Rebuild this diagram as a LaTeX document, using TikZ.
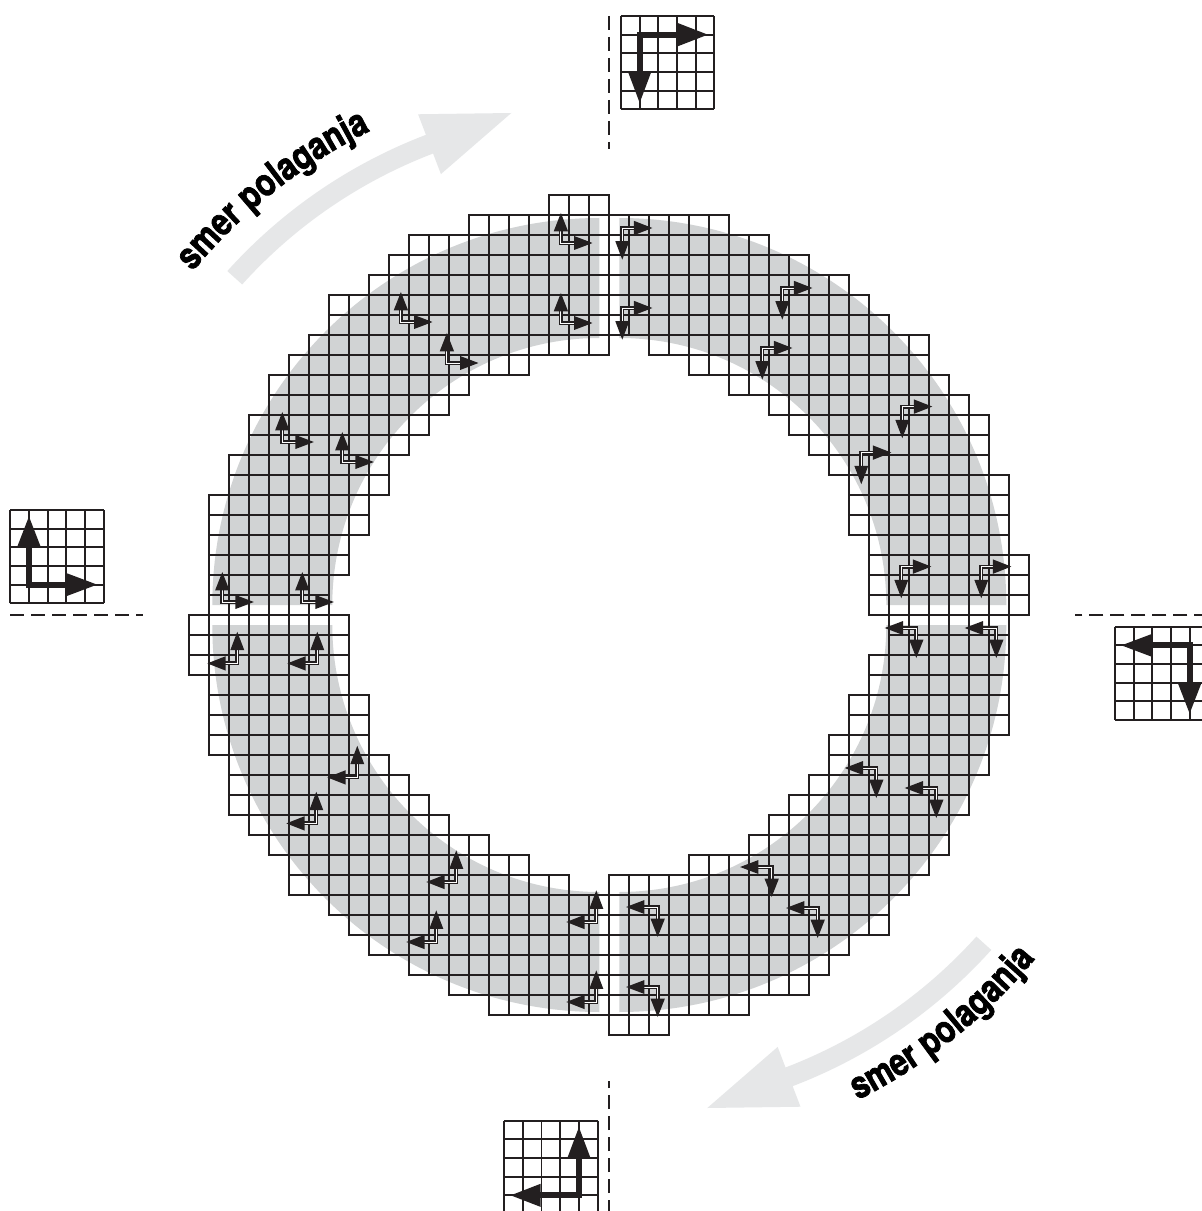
\documentclass[tikz,border=0pt]{standalone}
\usepackage{fontspec}
\setsansfont{TeX Gyre Heros}
\newfontfamily\flowfont[FakeStretch=0.82, FakeBold=2]{TeX Gyre Heros}
\usetikzlibrary{decorations.text}
\definecolor{ink}{HTML}{231F20}
\definecolor{ringgrey}{HTML}{D1D3D4}
\definecolor{arrowgrey}{HTML}{E6E7E8}
\tikzset{
  tile/.style={draw=ink, line width=1.8pt},
  band/.style={fill=ringgrey},
  stem/.style={draw=ink, line width=1.6pt, double=white, double distance=0.9pt, line join=miter},
  tip/.style={fill=ink},
  bigstem/.style={draw=ink, line width=6pt, line join=miter},
  axisline/.style={draw=ink, line width=1.6pt, dash pattern=on 14pt off 7pt},
  flow/.style={fill=arrowgrey},
  flowtext/.style={decorate, decoration={text along path,
      text={|\flowfont\bfseries\fontsize{38pt}{42pt}\selectfont|smer polaganja}}},
}
\newcommand\tileglyph[2]{%
  \begin{scope}[shift={(#1,#2)}]
    \draw[stem] (0,0.65) -- (0,0) -- (0.72,0);
    \fill[tip] (0,1.5) -- (-0.36,0.58) -- (0.36,0.58) -- cycle;
    \fill[tip] (1.58,0) -- (0.66,0.35) -- (0.66,-0.35) -- cycle;
  \end{scope}}
\begin{document}
\begin{tikzpicture}[x=20pt,y=20pt]
\useasboundingbox (-30.465,-29.8) rectangle (29.635,30.75);
\fill[white] (-30.465,-29.8) rectangle (29.635,30.75);

% grey laying-direction arrows
\fill[flow] (138:25.7) arc[start angle=138, end angle=110.9, radius=25.7]
  -- (110.9:26.8) -- (-4.90,25.10) -- (110.9:23.6) -- (110.9:24.7)
  arc[start angle=110.9, end angle=138, radius=24.7] -- cycle;
\begin{scope}[shift={(0,0.45)}, rotate=180]
\fill[flow] (138:25.7) arc[start angle=138, end angle=110.9, radius=25.7]
  -- (110.9:26.8) -- (-4.90,25.10) -- (110.9:23.6) -- (110.9:24.7)
  arc[start angle=110.9, end angle=138, radius=24.7] -- cycle;
\end{scope}

% labels
\path[flowtext] (140.5:27) arc[start angle=140.5, end angle=100, radius=27];
\begin{scope}[shift={(0,0.45)}]
\path[flowtext] (-63.3:27.65) arc[start angle=-63.3, end angle=-20, radius=27.65];
\end{scope}

% grey ring quarters
\foreach \ang in {0,-90,180,90} {
  \begin{scope}[rotate=\ang]
    \fill[band] (-0.5,19.85) arc[start angle=90, end angle=180, radius=19.35]
      -- (-13.85,0.5) arc[start angle=180, end angle=90, radius=13.35] -- cycle;
  \end{scope}
}

% tiles
\foreach \ang in {0,-90,180,90} {
  \begin{scope}[rotate=\ang]
    \foreach \rw/\ca/\cb in {0/18/20, 1/14/20, 2/11/20, 3/10/20, 4/9/20, 5/7/20,
        6/7/20, 7/6/20, 8/5/16, 9/4/13, 10/4/12, 11/3/11, 12/3/10, 13/2/9,
        14/2/9, 15/1/8, 16/1/8, 17/1/7, 18/1/7, 19/1/6, 20/1/6} {
      \foreach \col in {\ca,...,\cb} {
        \draw[tile] (\col-21, 20-\rw) rectangle ++(1,1);
      }
    }
  \end{scope}
}

% tile direction glyphs
\foreach \ang in {0,-90,180,90} {
  \begin{scope}[rotate=\ang]
    \foreach \gx/\gy in {-2.42/18.6, -2.42/14.6, -10.42/14.65, -8.12/12.6,
        -16.35/8.65, -13.35/7.65, -19.35/0.65, -15.35/0.65} {
      \tileglyph{\gx}{\gy}
    }
  \end{scope}
}

% axis dashed lines
\foreach \ang in {0,90,180,-90} {
  \draw[axisline, rotate=\ang] (0,29.95) -- (0,23.3);
}

% compass grids
\foreach \ang in {0,90,180,-90} {
  \begin{scope}[rotate=\ang, shift={(2.9185,27.6165)}, scale=0.9335]
    \foreach \i in {0,...,5} {
      \draw[tile] (\i-2.5,-2.5) -- (\i-2.5,2.5);
      \draw[tile] (-2.5,\i-2.5) -- (2.5,\i-2.5);
    }
    \draw[bigstem] (0.6,1.5) -- (-1.5,1.5) -- (-1.5,-0.55);
    \fill[tip] (2.15,1.5) -- (0.55,2.12) -- (0.55,0.88) -- cycle;
    \fill[tip] (-1.5,-2.15) -- (-2.12,-0.5) -- (-0.88,-0.5) -- cycle;
  \end{scope}
}
\end{tikzpicture}
\end{document}
